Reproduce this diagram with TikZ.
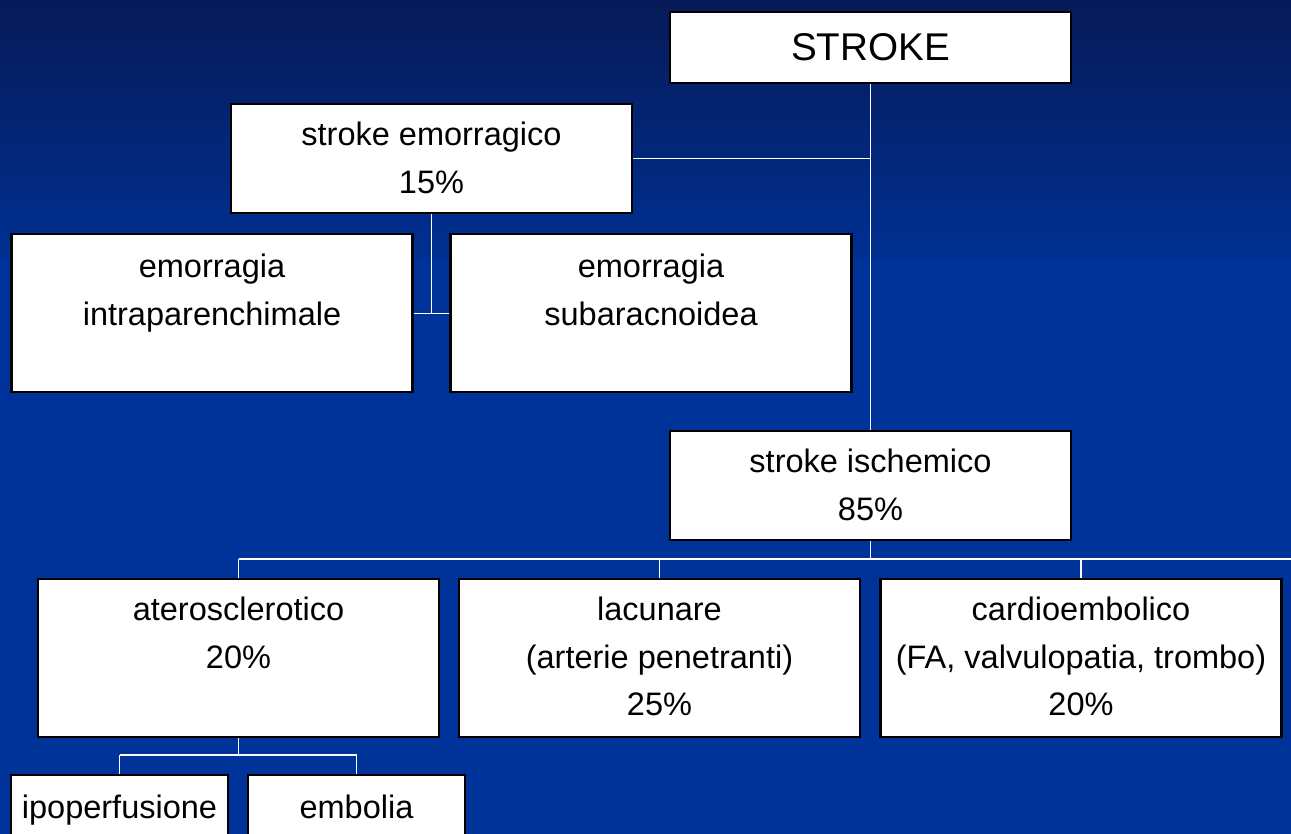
\documentclass[tikz,border=0pt]{standalone}
\usepackage{fontspec}
\setmainfont{Liberation Sans}
\usetikzlibrary{calc}

\definecolor{bgtop}{RGB}{6,26,88}
\definecolor{bgmid}{RGB}{0,48,146}
\definecolor{bgblue}{RGB}{0,51,153}

\tikzset{
    box/.style={draw=black, fill=white, line width=1.2pt, minimum width=8.02cm, anchor=north, inner sep=0pt},
    lbl/.style={anchor=north, align=center, inner sep=0pt, font=\fontsize{18.5}{27}\selectfont},
    conn/.style={draw=white, line width=0.6pt}
}

\begin{document}
\begin{tikzpicture}[x=0.02cm, y=-0.02cm]
        \clip (0, 0) rectangle (1291, 834);
        \shade[top color=bgtop, bottom color=bgmid] (0, 0) rectangle (1291, 260);
        \fill[bgblue] (0, 259) rectangle (1291, 834);

        \node[box, minimum height=1.42cm] (stroke) at (870.5, 11) {};
        \node[anchor=center, font=\fontsize{22}{26}\selectfont] (strokelbl) at (stroke.center) {STROKE};

        \node[box, minimum height=2.18cm] (emo) at (431.5, 103) {};
        \node[lbl] (emolbl) at ($(emo.north) + (0, 19)$) {stroke emorragico\\15\%};
        \node[box, minimum height=3.16cm] (intra) at (212, 233) {};
        \node[lbl] (intralbl) at ($(intra.north) + (0, 21)$) {emorragia\\intraparenchimale};
        \node[box, minimum height=3.16cm] (sub) at (651, 233) {};
        \node[lbl] (sublbl) at ($(sub.north) + (0, 21)$) {emorragia\\subaracnoidea};

        \node[box, minimum height=2.18cm] (isch) at (870.5, 430) {};
        \node[lbl] (ischlbl) at ($(isch.north) + (0, 19)$) {stroke ischemico\\85\%};

        \node[box, minimum height=3.16cm] (ath) at (238.5, 578) {};
        \node[lbl] (athlbl) at ($(ath.north) + (0, 19)$) {aterosclerotico\\20\%};
        \node[box, minimum height=3.16cm] (lac) at (659.5, 578) {};
        \node[lbl] (laclbl) at ($(lac.north) + (0, 19)$) {lacunare\\(arterie penetranti)\\25\%};
        \node[box, minimum height=3.16cm] (card) at (1081, 578) {};
        \node[lbl] (cardlbl) at ($(card.north) + (0, 19)$) {cardioembolico\\(FA, valvulopatia, trombo)\\20\%};

        \node[box, minimum width=4.34cm, minimum height=1.8cm] (ipo) at (119.5, 774) {};
        \node[lbl] (ipolbl) at ($(ipo.north) + (0, 21)$) {ipoperfusione};
        \node[box, minimum width=4.34cm, minimum height=1.8cm] (emb) at (356.5, 774) {};
        \node[lbl] (emblbl) at ($(emb.north) + (0, 21)$) {embolia};

        \coordinate (isbus) at (870.5, 559);
        \coordinate (busend) at (1291, 559);
        \coordinate (athbus) at (238.5, 755);

        \draw[conn] (stroke.south) -- (isch.north);
        \draw[conn] (emo.east) -- (emo.east -| stroke.south);
        \draw[conn] (emo.south) -- (emo.south |- intra.east);
        \draw[conn] (intra.east) -- (sub.west);

        \draw[conn] (isch.south) -- (isbus);
        \draw[conn] (ath.north |- isbus) -- (busend);
        \draw[conn] (ath.north |- isbus) -- (ath.north);
        \draw[conn] (lac.north |- isbus) -- (lac.north);
        \draw[conn] (card.north |- isbus) -- (card.north);

        \draw[conn] (ath.south) -- (athbus);
        \draw[conn] (ipo.north |- athbus) -- (emb.north |- athbus);
        \draw[conn] (ipo.north |- athbus) -- (ipo.north);
        \draw[conn] (emb.north |- athbus) -- (emb.north);
    \end{tikzpicture}
\end{document}
